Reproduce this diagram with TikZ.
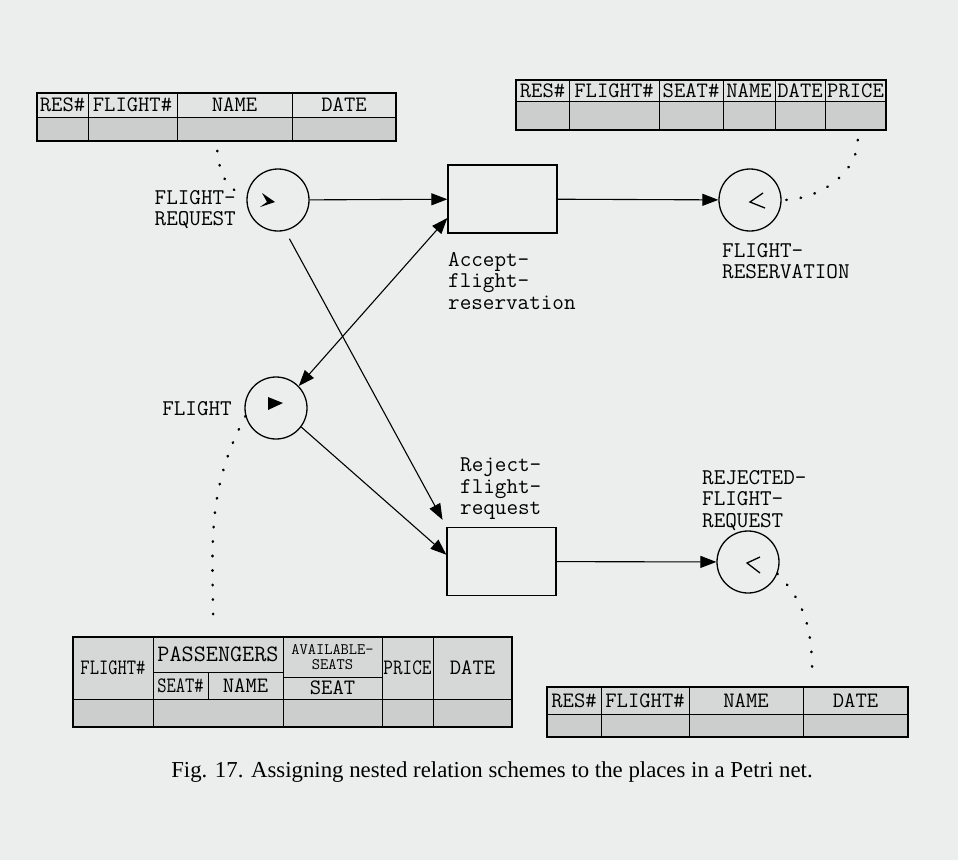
\documentclass[tikz,border=0pt]{standalone}
\usepackage{fontspec}
\usepackage{graphicx}
\usetikzlibrary{arrows.meta}
\newfontfamily\capfont{Liberation Serif}
\definecolor{paper}{RGB}{236,238,238}
\definecolor{headgray}{RGB}{226,228,228}
\definecolor{midgray}{RGB}{214,216,216}
\definecolor{stipple}{RGB}{204,206,206}

\begin{document}
\begin{tikzpicture}[
    x=1pt, y=-1pt,
    place/.style={circle, draw, line width=1.3pt, minimum size=62pt, inner sep=0pt},
    trans/.style={rectangle, draw, line width=1.3pt, minimum width=109pt, minimum height=68pt},
    lbl/.style={font=\ttfamily\fontsize{22.5}{21.5}\selectfont, inner sep=0pt, align=left},
    arrow/.style={->, >={Triangle[length=16pt,width=12pt]}, line width=1.1pt},
    link/.style={line width=2.6pt, dash pattern=on 0.5pt off 14pt, line cap=round},
    tbl/.style={rectangle, draw, line width=1.6pt, inner sep=0pt},
    head/.style={rectangle, draw, line width=1pt, fill=headgray, inner sep=0pt, font=\ttfamily\fontsize{22}{22}\selectfont},
    cell/.style={rectangle, draw, line width=1pt, fill=stipple, inner sep=0pt}
]

% Paper
\fill[paper] (0,0) rectangle (958,860);
\useasboundingbox (0,0) rectangle (958,860);

% Places
\node[place] (frq) at (278,200) {};
\node[place] (frs) at (750,200) {};
\node[place] (flt) at (276,408) {};
\node[place] (rfr) at (748,562) {};

% Transitions
\node[trans] (accept) at (502.5,199) {};
\node[trans] (reject) at (501.5,561.5) {};

% Labels
\node[lbl, anchor=north east, align=right] (frqlbl) at (236,190) {FLIGHT-\\REQUEST};
\node[lbl, anchor=north west] (frslbl) at (722,243) {FLIGHT-\\RESERVATION};
\node[lbl, anchor=east] (fltlbl) at (232,409) {FLIGHT};
\node[lbl, anchor=north west] (rfrlbl) at (702,470) {REJECTED-\\FLIGHT-\\REQUEST};
\node[lbl, anchor=north west] (acceptlbl) at (448,252) {Accept-\\flight-\\reservation};
\node[lbl, anchor=north west] (rejectlbl) at (460,458) {Reject-\\flight-\\request};

% Tokens
\fill (frq.center) ++(-3,2) -- ++(-13,-9) -- ++(5,9) -- ++(-7,5) -- cycle;
\fill (flt.center) ++(-8,-11) -- ++(15,6) -- ++(-15,7) -- cycle;
\draw[line width=1.3pt] (frs.center) ++(13,-7) -- ++(-13,9) -- ++(15,6);
\draw[line width=1.3pt] (rfr.center) ++(12,-5) -- ++(-13,6) -- ++(13,10);

% Arcs
\draw[arrow] (frq) -- (accept);
\draw[arrow] (accept) -- (frs);
\draw[arrow, <->] (flt.44) -- (accept.199);
\draw[arrow, shorten <=9pt, shorten >=8pt] (frq.283) -- (reject.north west);
\draw[arrow] (flt.-37) -- (reject.173);
\draw[arrow] (reject) -- (rfr);

% Scheme of FLIGHT-REQUEST
\node[head, minimum width=51pt, minimum height=24pt] (reqres) at (62.5,105) {RES\#};
\node[head, minimum width=89pt, minimum height=24pt] (reqflight) at (132.5,105) {FLIGHT\#};
\node[head, minimum width=115pt, minimum height=24pt] (reqname) at (234.5,105) {NAME};
\node[head, minimum width=104pt, minimum height=24pt] (reqdate) at (344,105) {DATE};
\node[cell, minimum width=51pt, minimum height=24pt] (reqres-d) at (62.5,129) {};
\node[cell, minimum width=89pt, minimum height=24pt] (reqflight-d) at (132.5,129) {};
\node[cell, minimum width=115pt, minimum height=24pt] (reqname-d) at (234.5,129) {};
\node[cell, minimum width=104pt, minimum height=24pt] (reqdate-d) at (344,129) {};
\node[tbl, minimum width=359pt, minimum height=48pt] (reqtab) at (216.5,117) {};

% Scheme of FLIGHT-RESERVATION
\node[head, minimum width=53pt, minimum height=21pt] (resres) at (542.5,90.5) {RES\#};
\node[head, minimum width=90pt, minimum height=21pt] (resflight) at (614,90.5) {FLIGHT\#};
\node[head, minimum width=64pt, minimum height=21pt] (resseat) at (691,90.5) {SEAT\#};
\node[head, minimum width=52pt, minimum height=21pt] (resname) at (749,90.5) {NAME};
\node[head, minimum width=50pt, minimum height=21pt] (resdate) at (800,90.5) {DATE};
\node[head, minimum width=61pt, minimum height=21pt] (resprice) at (855.5,90.5) {PRICE};
\node[cell, minimum width=53pt, minimum height=29pt] (resres-d) at (542.5,115.5) {};
\node[cell, minimum width=90pt, minimum height=29pt] (resflight-d) at (614,115.5) {};
\node[cell, minimum width=64pt, minimum height=29pt] (resseat-d) at (691,115.5) {};
\node[cell, minimum width=52pt, minimum height=29pt] (resname-d) at (749,115.5) {};
\node[cell, minimum width=50pt, minimum height=29pt] (resdate-d) at (800,115.5) {};
\node[cell, minimum width=61pt, minimum height=29pt] (resprice-d) at (855.5,115.5) {};
\node[tbl, minimum width=370pt, minimum height=50pt] (restab) at (701,105) {};

% Scheme of FLIGHT (nested)
\node[head, fill=midgray, minimum width=80pt, minimum height=62pt] (fltflight) at (113,668) {\scalebox{0.82}[1]{FLIGHT\#}};
\node[head, fill=midgray, minimum width=130pt, minimum height=35pt, font=\ttfamily\fontsize{23.5}{22}\selectfont] (fltpass) at (218,654.5) {PASSENGERS};
\node[head, fill=midgray, minimum width=55pt, minimum height=27pt] (fltseatno) at (180.5,685.5) {\scalebox{0.82}[1]{SEAT\#}};
\node[head, fill=midgray, minimum width=75pt, minimum height=27pt] (fltname) at (245.5,685.5) {NAME};
\node[head, fill=midgray, minimum width=99pt, minimum height=40pt, align=center, font=\ttfamily\fontsize{16}{15}\selectfont] (fltavail) at (332.5,657) {AVAILABLE-\\SEATS};
\node[head, fill=midgray, minimum width=99pt, minimum height=22pt] (fltseat) at (332.5,688) {SEAT};
\node[head, fill=midgray, minimum width=51pt, minimum height=62pt] (fltprice) at (407.5,668) {\scalebox{0.85}[1]{PRICE}};
\node[head, fill=midgray, minimum width=79pt, minimum height=62pt] (fltdate) at (472.5,668) {DATE};
\node[cell, minimum width=80pt, minimum height=28pt] (fltflight-d) at (113,713) {};
\node[cell, minimum width=130pt, minimum height=28pt] (fltpass-d) at (218,713) {};
\node[cell, minimum width=99pt, minimum height=28pt] (fltavail-d) at (332.5,713) {};
\node[cell, minimum width=51pt, minimum height=28pt] (fltprice-d) at (407.5,713) {};
\node[cell, minimum width=79pt, minimum height=28pt] (fltdate-d) at (472.5,713) {};
\node[tbl, minimum width=439pt, minimum height=90pt] (flttab) at (292.5,682) {};

% Scheme of REJECTED-FLIGHT-REQUEST
\node[head, fill=midgray, minimum width=54pt, minimum height=27pt] (rejres) at (574,700.5) {RES\#};
\node[head, fill=midgray, minimum width=88pt, minimum height=27pt] (rejflight) at (645,700.5) {FLIGHT\#};
\node[head, fill=midgray, minimum width=114pt, minimum height=27pt] (rejname) at (746,700.5) {NAME};
\node[head, fill=midgray, minimum width=105pt, minimum height=27pt] (rejdate) at (855.5,700.5) {DATE};
\node[cell, minimum width=54pt, minimum height=23pt] (rejres-d) at (574,725.5) {};
\node[cell, minimum width=88pt, minimum height=23pt] (rejflight-d) at (645,725.5) {};
\node[cell, minimum width=114pt, minimum height=23pt] (rejname-d) at (746,725.5) {};
\node[cell, minimum width=105pt, minimum height=23pt] (rejdate-d) at (855.5,725.5) {};
\node[tbl, minimum width=361pt, minimum height=50pt] (rejtab) at (727.5,712) {};

% Scheme links
\draw[link, shorten <=9pt] (reqtab.south) to[out=-85, in=170] (frq.171);
\draw[link, shorten <=9pt] ([xshift=-29pt]restab.south east) to[out=-90, in=0] (frs.east);
\draw[link, shorten >=8pt] (flt.195) to[out=242, in=90] ([xshift=141pt]flttab.north west);
\draw[link, shorten >=8pt] (rfr.-22) to[out=-45, in=90] ([xshift=266pt]rejtab.north west);

% Caption
\node[font=\capfont\fontsize{22.8}{26}\selectfont] (caption) at (492,772) {Fig. 17. Assigning nested relation schemes to the places in a Petri net.};

\end{tikzpicture}
\end{document}
